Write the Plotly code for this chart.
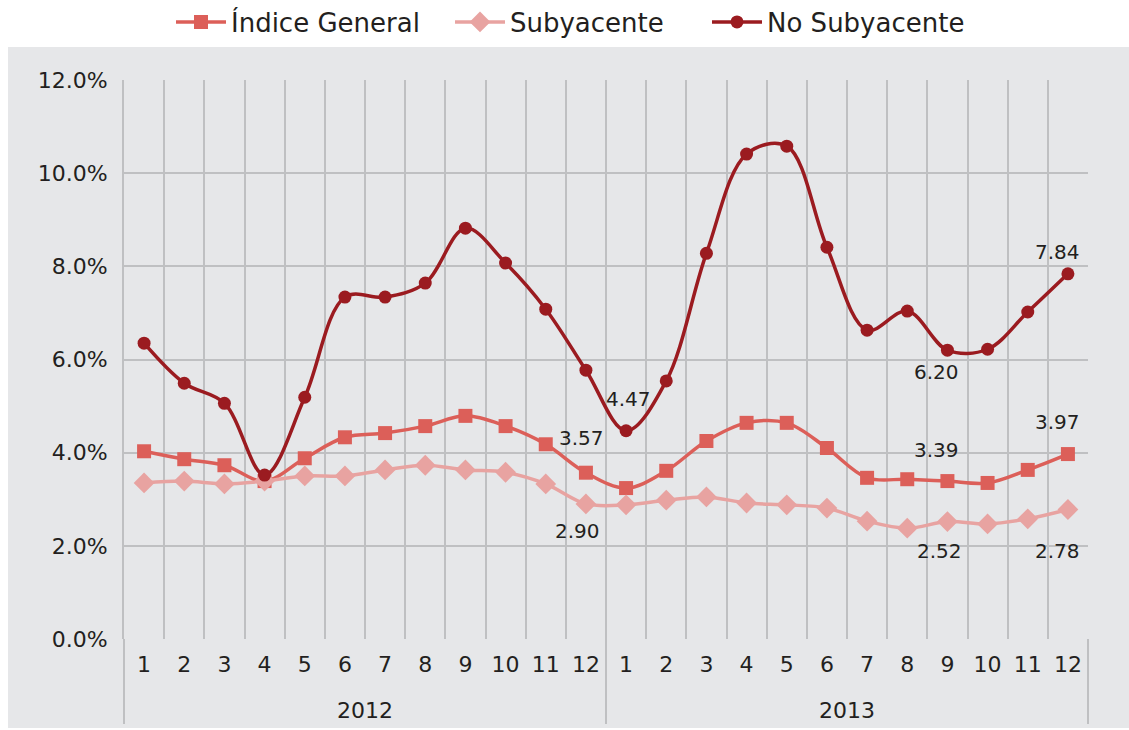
import plotly.graph_objects as go

# ---------------- data ----------------
year_labels = ["2012"] * 12 + ["2013"] * 12
month_labels = [str(m) for m in range(1, 13)] * 2

indice_general = [4.03, 3.86, 3.73, 3.39, 3.88, 4.33, 4.42, 4.57, 4.79, 4.57, 4.18, 3.57,
                  3.24, 3.61, 4.25, 4.64, 4.64, 4.10, 3.46, 3.43, 3.39, 3.35, 3.63, 3.97]
subyacente = [3.35, 3.39, 3.33, 3.39, 3.50, 3.50, 3.63, 3.73, 3.63, 3.58, 3.33, 2.90,
              2.88, 2.98, 3.05, 2.92, 2.88, 2.81, 2.53, 2.38, 2.52, 2.47, 2.58, 2.78]
no_subyacente = [6.35, 5.49, 5.06, 3.52, 5.19, 7.34, 7.34, 7.64, 8.82, 8.07, 7.08, 5.77,
                 4.47, 5.54, 8.28, 10.41, 10.58, 8.41, 6.63, 7.04, 6.20, 6.22, 7.02, 7.84]

y_ticks = [0, 2, 4, 6, 8, 10, 12]
y_tick_text = ["0.0%", "2.0%", "4.0%", "6.0%", "8.0%", "10.0%", "12.0%"]

# labelled points: (series key, index into series)
labelled_points = [
    ("indice", 11), ("sub", 11), ("no", 12),
    ("no", 20), ("indice", 20), ("sub", 20),
    ("no", 23), ("indice", 23), ("sub", 23),
]
series = {"indice": indice_general, "sub": subyacente, "no": no_subyacente}

# ---------------- styling ----------------
FONT = "DejaVu Sans"
TXT = "#231f20"
C_IND = "#dc5f59"
C_SUB = "#e8a3a1"
C_NO = "#9b1b20"
GRID = "#bfc0c2"
BG = "#e6e7e9"

W, H = 1129, 730
L, R, T, B = 124, 41, 80, 91
pw, ph = W - L - R, H - T - B

n = len(month_labels)
x_idx = list(range(n))

fig = go.Figure()
common_line = dict(width=3.5, shape="spline", smoothing=1.0)
fig.add_trace(go.Scatter(
    x=x_idx, y=indice_general, name="Índice General", mode="lines+markers",
    line=dict(color=C_IND, **common_line),
    marker=dict(symbol="square", size=14, color=C_IND), legend="legend"))
fig.add_trace(go.Scatter(
    x=x_idx, y=subyacente, name="Subyacente", mode="lines+markers",
    line=dict(color=C_SUB, **common_line),
    marker=dict(symbol="diamond", size=16, color=C_SUB), legend="legend2"))
fig.add_trace(go.Scatter(
    x=x_idx, y=no_subyacente, name="No Subyacente", mode="lines+markers",
    line=dict(color=C_NO, **common_line),
    marker=dict(symbol="circle", size=13, color=C_NO), legend="legend3"))

# data labels (offsets are styling)
offsets = {
    ("indice", 11): (-4, 35), ("sub", 11): (-8, -27), ("no", 12): (2, 32),
    ("no", 20): (-11, -22), ("indice", 20): (-11, 31), ("sub", 20): (-8, -29),
    ("no", 23): (-10, 22), ("indice", 23): (-10, 32), ("sub", 23): (-10, -41),
}
for key, idx in labelled_points:
    val = series[key][idx]
    dx, dy = offsets[(key, idx)]
    fig.add_annotation(
        x=x_idx[idx], y=val, text=f"{val:.2f}", showarrow=False,
        xshift=dx, yshift=dy, font=dict(family=FONT, size=20, color=TXT))

# year (group) labels under the month labels
groups = []
for i, yl in enumerate(year_labels):
    if not groups or groups[-1][0] != yl:
        groups.append([yl, i, i])
    else:
        groups[-1][2] = i
for yl, i0, i1 in groups:
    fig.add_annotation(
        x=(x_idx[i0] + x_idx[i1]) / 2, xref="x", y=-(710 - (H - B)) / ph, yref="paper",
        text=yl, showarrow=False, yanchor="middle",
        font=dict(family=FONT, size=22, color=TXT))

# gray panel behind everything
fig.add_shape(type="rect", xref="paper", yref="paper",
              x0=(8 - L) / pw, x1=(W - L) / pw,
              y0=-(728 - (H - B)) / ph, y1=(H - B - 47) / ph,
              fillcolor=BG, line=dict(width=0), layer="below")

# group dividers (left edge, between years, right edge), extended under the labels
edges = [0.0] + [(g[1]) / n for g in groups[1:]] + [1.0]
for gx in edges:
    fig.add_shape(type="line", xref="paper", yref="paper",
                  x0=gx, x1=gx, y0=0, y1=-(724 - (H - B)) / ph,
                  line=dict(color=GRID, width=2), layer="above")

legend_style = dict(orientation="h", xref="container", yref="container",
                    xanchor="left", y=1 - 22 / H, yanchor="middle",
                    font=dict(family=FONT, size=26, color=TXT),
                    bgcolor="rgba(0,0,0,0)", itemwidth=50)
fig.update_layout(
    width=W, height=H,
    margin=dict(l=L, r=R, t=T, b=B, autoexpand=False),
    paper_bgcolor="white", plot_bgcolor=BG,
    font=dict(family=FONT, size=22, color=TXT),
    showlegend=True,
    legend=dict(x=(176 - 5) / W, **legend_style),
    legend2=dict(x=(455 - 5) / W, **legend_style),
    legend3=dict(x=(706 + 1) / W, **legend_style),
)

fig.update_xaxes(
    range=[-0.5, n - 0.5],
    tickmode="array", tickvals=x_idx, ticktext=month_labels,
    showgrid=False, showline=False, ticks="", zeroline=False,
    minor=dict(tickmode="array", tickvals=[i - 0.5 for i in range(n + 1)],
               showgrid=True, gridcolor=GRID, gridwidth=2, ticks=""),
    tickfont=dict(family=FONT, size=22, color=TXT),
    ticklabelstandoff=10,
)
fig.update_yaxes(
    range=[0, 12], tickvals=y_ticks, ticktext=y_tick_text,
    showgrid=True, gridcolor=GRID, gridwidth=2,
    zeroline=False, showline=True, linecolor=GRID, linewidth=2,
    ticks="", ticklabelstandoff=10,
    tickfont=dict(family=FONT, size=22, color=TXT),
)

fig.write_html("out.html", config={"displayModeBar": False},
               post_script="document.body.style.margin='0';")
